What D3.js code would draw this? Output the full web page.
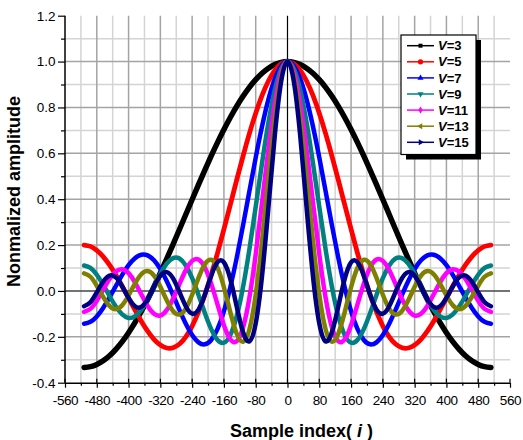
<!DOCTYPE html>
<html><head><meta charset="utf-8">
<script src="https://cdn.jsdelivr.net/npm/d3@7"></script>
<style>
body{margin:0;background:#fff;}
svg{display:block;font-family:Arial,"Liberation Sans",sans-serif;}
</style>
</head><body>
<svg id="c" width="523" height="440"></svg>
<script>
// ---- data ----
const sampleIndex = [-512,-496,-480,-464,-448,-432,-416,-400,-384,-368,-352,-336,-320,-304,-288,-272,-256,-240,-224,-208,-192,-176,-160,-144,-128,-112,-96,-80,-64,-48,-32,-16,0,16,32,48,64,80,96,112,128,144,160,176,192,208,224,240,256,272,288,304,320,336,352,368,384,400,416,432,448,464,480,496,512];

const ampV3 = [-0.3333,-0.3301,-0.3205,-0.3046,-0.2826,-0.2546,-0.2210,-0.1820,-0.1381,-0.0896,-0.0370,0.0191,0.0782,0.1398,0.2033,0.2680,0.3333,0.3987,0.4634,0.5269,0.5885,0.6476,0.7037,0.7563,0.8047,0.8487,0.8877,0.9213,0.9493,0.9713,0.9872,0.9968,1,0.9968,0.9872,0.9713,0.9493,0.9213,0.8877,0.8487,0.8047,0.7563,0.7037,0.6476,0.5885,0.5269,0.4634,0.3987,0.3333,0.2680,0.2033,0.1398,0.0782,0.0191,-0.0370,-0.0896,-0.1381,-0.1820,-0.2210,-0.2546,-0.2826,-0.3046,-0.3205,-0.3301,-0.3333];

const ampV5 = [0.2000,0.1943,0.1772,0.1498,0.1133,0.0695,0.0205,-0.0312,-0.0828,-0.1318,-0.1753,-0.2108,-0.2359,-0.2487,-0.2476,-0.2315,-0.2000,-0.1531,-0.0915,-0.0165,0.0702,0.1663,0.2691,0.3757,0.4828,0.5872,0.6857,0.7750,0.8524,0.9154,0.9619,0.9904,1,0.9904,0.9619,0.9154,0.8524,0.7750,0.6857,0.5872,0.4828,0.3757,0.2691,0.1663,0.0702,-0.0165,-0.0915,-0.1531,-0.2000,-0.2315,-0.2476,-0.2487,-0.2359,-0.2108,-0.1753,-0.1318,-0.0828,-0.0312,0.0205,0.0695,0.1133,0.1498,0.1772,0.1943,0.2000];

const ampV7 = [-0.1429,-0.1347,-0.1110,-0.0742,-0.0284,0.0216,0.0704,0.1124,0.1429,0.1578,0.1550,0.1338,0.0955,0.0432,-0.0181,-0.0824,-0.1429,-0.1923,-0.2241,-0.2326,-0.2138,-0.1655,-0.0880,0.0164,0.1429,0.2848,0.4340,0.5816,0.7182,0.8351,0.9246,0.9808,1,0.9808,0.9246,0.8351,0.7182,0.5816,0.4340,0.2848,0.1429,0.0164,-0.0880,-0.1655,-0.2138,-0.2326,-0.2241,-0.1923,-0.1429,-0.0824,-0.0181,0.0432,0.0955,0.1338,0.1550,0.1578,0.1429,0.1124,0.0704,0.0216,-0.0284,-0.0742,-0.1110,-0.1347,-0.1429];

const ampV9 = [0.1111,0.1006,0.0708,0.0273,-0.0221,-0.0682,-0.1024,-0.1179,-0.1111,-0.0825,-0.0366,0.0190,0.0742,0.1187,0.1430,0.1412,0.1111,0.0557,-0.0172,-0.0959,-0.1663,-0.2138,-0.2256,-0.1926,-0.1111,0.0162,0.1804,0.3673,0.5586,0.7346,0.8763,0.9681,1,0.9681,0.8763,0.7346,0.5586,0.3673,0.1804,0.0162,-0.1111,-0.1926,-0.2256,-0.2138,-0.1663,-0.0959,-0.0172,0.0557,0.1111,0.1412,0.1430,0.1187,0.0742,0.0190,-0.0366,-0.0825,-0.1111,-0.1179,-0.1024,-0.0682,-0.0221,0.0273,0.0708,0.1006,0.1111];

const ampV11 = [-0.0909,-0.0781,-0.0431,0.0045,0.0515,0.0847,0.0945,0.0776,0.0377,-0.0148,-0.0654,-0.0998,-0.1072,-0.0839,-0.0341,0.0298,0.0909,0.1313,0.1371,0.1025,0.0319,-0.0596,-0.1491,-0.2103,-0.2195,-0.1607,-0.0307,0.1600,0.3875,0.6188,0.8179,0.9524,1,0.9524,0.8179,0.6188,0.3875,0.1600,-0.0307,-0.1607,-0.2195,-0.2103,-0.1491,-0.0596,0.0319,0.1025,0.1371,0.1313,0.0909,0.0298,-0.0341,-0.0839,-0.1072,-0.0998,-0.0654,-0.0148,0.0377,0.0776,0.0945,0.0847,0.0515,0.0045,-0.0431,-0.0781,-0.0909];

const ampV13 = [0.0769,0.0619,0.0224,-0.0262,-0.0652,-0.0792,-0.0621,-0.0199,0.0319,0.0730,0.0868,0.0664,0.0180,-0.0409,-0.0878,-0.1027,-0.0769,-0.0168,0.0572,0.1167,0.1358,0.1005,0.0160,-0.0925,-0.1857,-0.2215,-0.1681,-0.0155,0.2191,0.4936,0.7510,0.9338,1,0.9338,0.7510,0.4936,0.2191,-0.0155,-0.1681,-0.2215,-0.1857,-0.0925,0.0160,0.1005,0.1358,0.1167,0.0572,-0.0168,-0.0769,-0.1027,-0.0878,-0.0409,0.0180,0.0664,0.0868,0.0730,0.0319,-0.0199,-0.0621,-0.0792,-0.0652,-0.0262,0.0224,0.0619,0.0769];

const ampV15 = [-0.0667,-0.0495,-0.0066,0.0401,0.0667,0.0589,0.0202,-0.0303,-0.0667,-0.0694,-0.0356,0.0189,0.0667,0.0821,0.0547,-0.0044,-0.0667,-0.0992,-0.0812,-0.0164,0.0667,0.1258,0.1247,0.0525,-0.0667,-0.1789,-0.2198,-0.1411,0.0667,0.3649,0.6769,0.9124,1,0.9124,0.6769,0.3649,0.0667,-0.1411,-0.2198,-0.1789,-0.0667,0.0525,0.1247,0.1258,0.0667,-0.0164,-0.0812,-0.0992,-0.0667,-0.0044,0.0547,0.0821,0.0667,0.0189,-0.0356,-0.0694,-0.0667,-0.0303,0.0202,0.0589,0.0667,0.0401,-0.0066,-0.0495,-0.0667];

const seriesV = ["3","5","7","9","11","13","15"];
const xTicks = [-560,-480,-400,-320,-240,-160,-80,0,80,160,240,320,400,480,560];
const yTicks = [-0.4,-0.2,0.0,0.2,0.4,0.6,0.8,1.0,1.2];
const xTickLabels = ["-560","-480","-400","-320","-240","-160","-80","0","80","160","240","320","400","480","560"];
const yTickLabels = ["-0.4","-0.2","0.0","0.2","0.4","0.6","0.8","1.0","1.2"];

// ---- styling ----
const seriesData = [ampV3, ampV5, ampV7, ampV9, ampV11, ampV13, ampV15];
const colors = ["#000000","#ff0000","#0000ff","#008080","#ff00ff","#808000","#000080"];
const symbols = [
  {t:d3.symbolSquare, r:0},
  {t:d3.symbolCircle, r:0},
  {t:d3.symbolTriangle, r:0},
  {t:d3.symbolTriangle, r:180},
  {t:d3.symbolDiamond, r:0},
  {t:d3.symbolTriangle, r:-90},
  {t:d3.symbolTriangle, r:90}
];
const widths = [5.5,4.8,4.5,4.5,4.5,4.5,4.5];

const svg = d3.select("#c");
const L = 65, R = 510, T = 15.7, B = 382.7;
const x = d3.scaleLinear().domain([-560,560]).range([L,R]);
const y = d3.scaleLinear().domain([-0.4,1.2]).range([B,T]);

// grid
const xMinor = d3.range(-520, 561, 80);
const yMinor = d3.range(-3, 12, 2).map(v => v/10);
const g = svg.append("g");
g.selectAll(".vm").data(xMinor).join("line")
  .attr("x1",d=>x(d)).attr("x2",d=>x(d)).attr("y1",T).attr("y2",B)
  .attr("stroke","#d4d4d4").attr("stroke-width",1.5);
g.selectAll(".hm").data(yMinor).join("line")
  .attr("x1",L).attr("x2",R).attr("y1",d=>y(d)).attr("y2",d=>y(d))
  .attr("stroke","#d4d4d4").attr("stroke-width",1.5);
g.selectAll(".vM").data(xTicks.filter(d=>d!==0 && Math.abs(d)!==560)).join("line")
  .attr("x1",d=>x(d)).attr("x2",d=>x(d)).attr("y1",T).attr("y2",B)
  .attr("stroke","#a4a4a4").attr("stroke-width",1.5);
g.selectAll(".hM").data(yTicks.filter(d=>d!==0 && d!==-0.4 && d!==1.2)).join("line")
  .attr("x1",L).attr("x2",R).attr("y1",d=>y(d)).attr("y2",d=>y(d))
  .attr("stroke","#a4a4a4").attr("stroke-width",1.5);
// zero lines
g.append("line").attr("x1",L).attr("x2",R).attr("y1",y(0)).attr("y2",y(0))
  .attr("stroke","#444").attr("stroke-width",1.5);
g.append("line").attr("x1",x(0)).attr("x2",x(0)).attr("y1",T).attr("y2",B)
  .attr("stroke","#000").attr("stroke-width",1.2);

// curves
const line = d3.line().x((d,i)=>x(sampleIndex[i])).y(d=>y(d)).curve(d3.curveNatural);
seriesData.forEach((s,k)=>{
  svg.append("path").datum(s).attr("d",line)
    .attr("fill","none").attr("stroke",colors[k]).attr("stroke-width",widths[k])
    .attr("stroke-linejoin","round").attr("stroke-linecap","round");
});

// axes
const xAxis = d3.axisBottom(x).tickValues(xTicks).tickFormat((d,i)=>xTickLabels[i]).tickSizeInner(5).tickSizeOuter(0).tickPadding(8);
const xAx = svg.append("g").attr("transform",`translate(0,${B})`).call(xAxis);
const xAxMinor = svg.append("g").attr("transform",`translate(0,${B})`)
  .call(d3.axisBottom(x).tickValues(xMinor).tickFormat("").tickSizeInner(3).tickSizeOuter(0));
xAxMinor.select(".domain").remove();
svg.append("g").selectAll("line").data(xTicks).join("line")
  .attr("x1",d=>x(d)).attr("x2",d=>x(d)).attr("y1",B-4).attr("y2",B)
  .attr("stroke","#000").attr("stroke-width",1.2);

const yAxis = d3.axisLeft(y).tickValues(yTicks).tickFormat((d,i)=>yTickLabels[i]).tickSizeInner(7).tickSizeOuter(0).tickPadding(2.5);
const yAx = svg.append("g").attr("transform",`translate(${L},0)`).call(yAxis);
const yAxMinor = svg.append("g").attr("transform",`translate(${L},0)`)
  .call(d3.axisLeft(y).tickValues(yMinor).tickFormat("").tickSizeInner(4).tickSizeOuter(0));
yAxMinor.select(".domain").remove();

[xAx,yAx,xAxMinor,yAxMinor].forEach(a=>{
  a.selectAll(".domain").attr("stroke","#000").attr("stroke-width",1.5);
  a.selectAll(".tick line").attr("stroke","#000").attr("stroke-width",1.2);
  a.selectAll("text").attr("font-family","Arial, 'Liberation Sans', sans-serif").attr("font-size",13.5).attr("fill","#000");
});
xAx.selectAll("text").attr("letter-spacing","-0.4");
xAx.select(".domain").attr("d",`M${L},0.5H${R}`);
yAx.select(".domain").attr("d",`M0,${T}V${B}`);

// axis titles
svg.append("text").attr("x",230).attr("y",437)
  .attr("font-size",18).attr("font-weight","bold")
  .call(t=>{
    t.append("tspan").text("Sample index( ");
    t.append("tspan").attr("font-style","italic").text("i");
    t.append("tspan").text(" )");
  });
svg.append("text").attr("transform","translate(19.5,191.5) rotate(-90)")
  .attr("text-anchor","middle").attr("font-size",18).attr("font-weight","bold")
  .text("Nonmalized amplitude");

// legend
const lg = svg.append("g");
lg.append("rect").attr("x",406).attr("y",40).attr("width",75).attr("height",119.5).attr("fill","#000");
lg.append("rect").attr("x",401).attr("y",35).attr("width",75).attr("height",119.5)
  .attr("fill","#fff").attr("stroke","#000").attr("stroke-width",1.2);
seriesV.forEach((v,k)=>{
  const yy = 45.7 + k*16.1;
  lg.append("line").attr("x1",407).attr("x2",434).attr("y1",yy).attr("y2",yy)
    .attr("stroke",colors[k]).attr("stroke-width",1.5);
  lg.append("path").attr("d",d3.symbol().type(symbols[k].t).size(symbols[k].t===d3.symbolCircle?22:16)())
    .attr("transform",`translate(420.5,${yy}) rotate(${symbols[k].r})`)
    .attr("fill",colors[k]);
  const t = lg.append("text").attr("x",438).attr("y",yy).attr("dy","0.36em")
    .attr("font-size",13).attr("font-weight","bold");
  t.append("tspan").attr("font-style","italic").text("V");
  t.append("tspan").text("=" + v);
});
</script>
</body></html>
